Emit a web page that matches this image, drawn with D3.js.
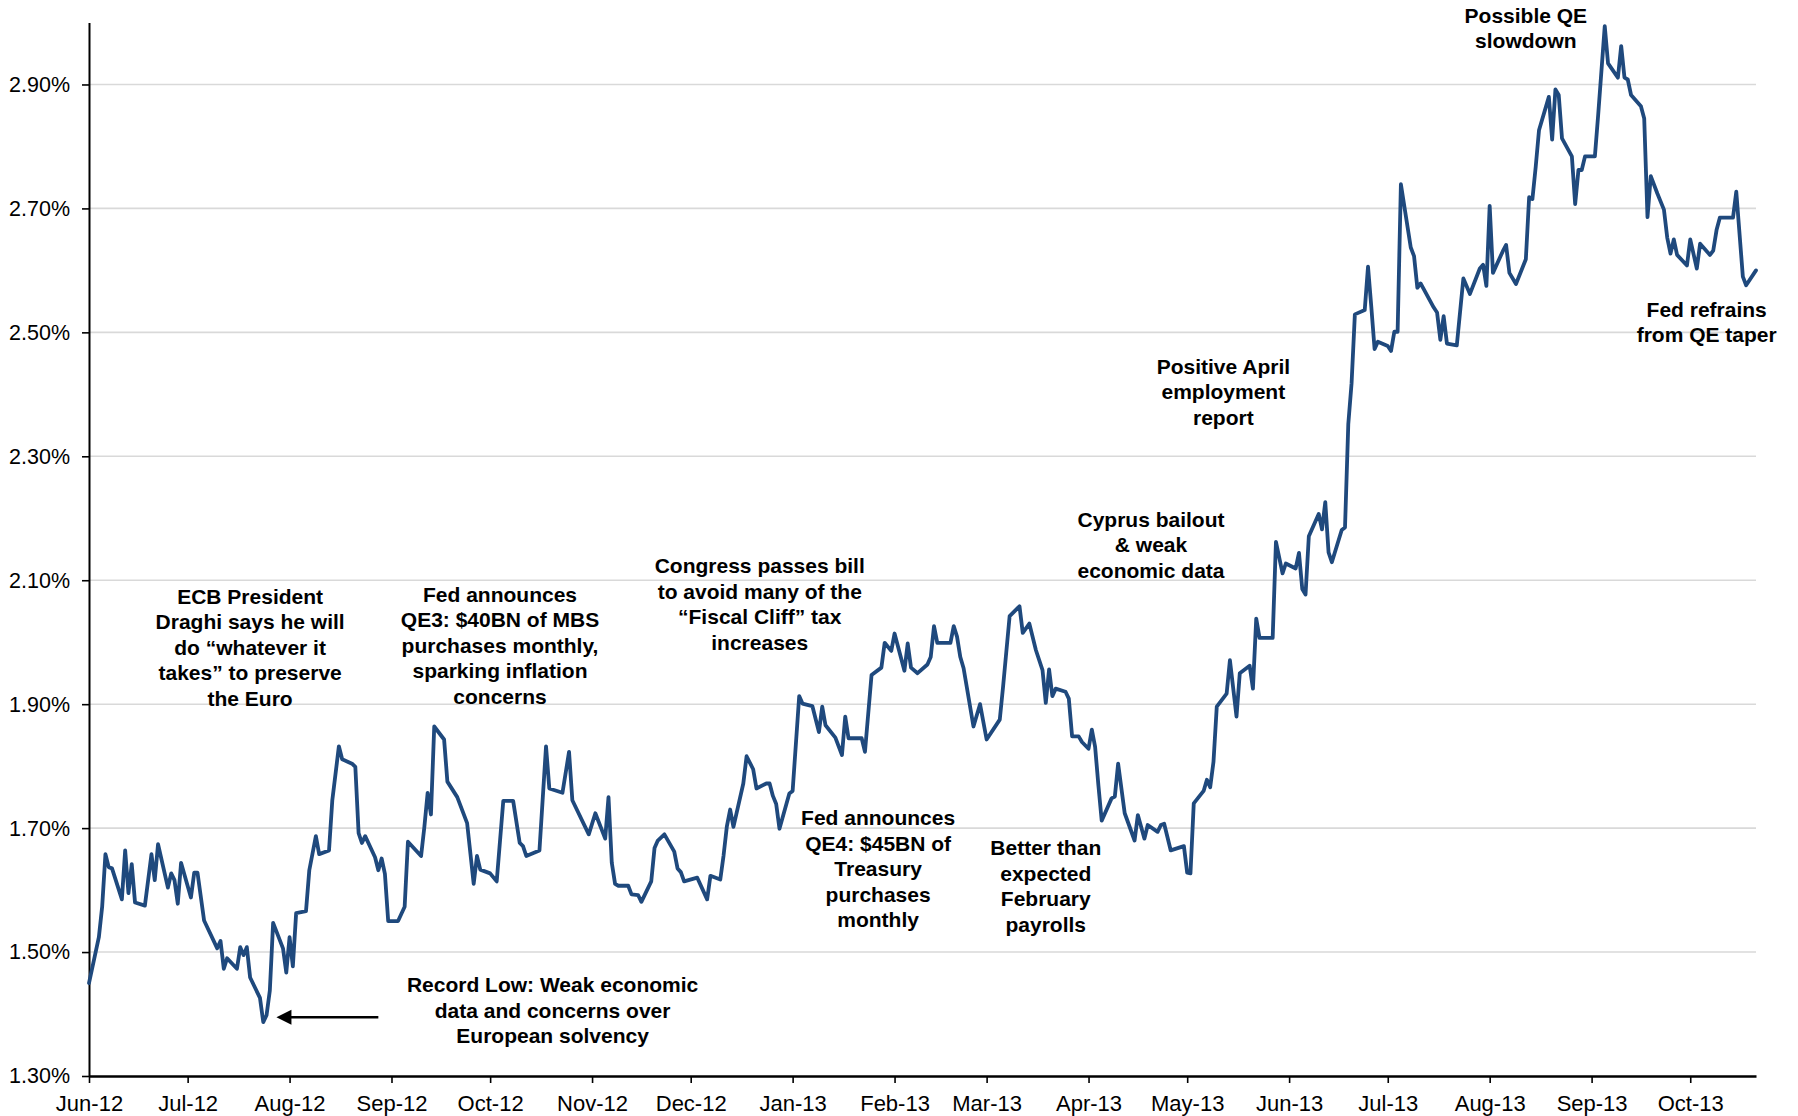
<!DOCTYPE html>
<html>
<head>
<meta charset="utf-8">
<script src="https://cdn.jsdelivr.net/npm/d3@7"></script>
<style>
  html, body { margin: 0; padding: 0; background: #fff; }
  svg { display: block; background: #fff; }
  text { font-family: "Liberation Sans", Arial, Helvetica, sans-serif; fill: #000; }
</style>
</head>
<body>
<svg id="chart" width="1798" height="1116"></svg>
<script>
// 10-year US Treasury yield (%), daily closes, Jun 2012 - Oct 2013
const yield2012 = [
  ["2012-06-01",1.45],["2012-06-04",1.524],["2012-06-05",1.573],["2012-06-06",1.658],["2012-06-07",1.637],
  ["2012-06-08",1.635],["2012-06-11",1.585],["2012-06-12",1.664],["2012-06-13",1.595],["2012-06-14",1.642],
  ["2012-06-15",1.58],["2012-06-18",1.575],["2012-06-20",1.658],["2012-06-21",1.616],["2012-06-22",1.674],
  ["2012-06-25",1.604],["2012-06-26",1.627],["2012-06-27",1.616],["2012-06-28",1.578],["2012-06-29",1.644],
  ["2012-07-02",1.588],["2012-07-03",1.628],["2012-07-04",1.628],["2012-07-06",1.551],["2012-07-10",1.506],
  ["2012-07-11",1.518],["2012-07-12",1.473],["2012-07-13",1.49],["2012-07-16",1.473],["2012-07-17",1.508],
  ["2012-07-18",1.495],["2012-07-19",1.508],["2012-07-20",1.459],["2012-07-23",1.426],["2012-07-24",1.387],
  ["2012-07-25",1.398],["2012-07-26",1.438],["2012-07-27",1.547],["2012-07-30",1.506],["2012-07-31",1.467],
  ["2012-08-01",1.524],["2012-08-02",1.477],["2012-08-03",1.563],["2012-08-06",1.566],["2012-08-07",1.632],
  ["2012-08-09",1.687],["2012-08-10",1.658],["2012-08-13",1.664],["2012-08-14",1.745],["2012-08-16",1.832],
  ["2012-08-17",1.811],["2012-08-20",1.804],["2012-08-21",1.799],["2012-08-22",1.692],["2012-08-23",1.676],
  ["2012-08-24",1.687],["2012-08-27",1.653],["2012-08-28",1.632],["2012-08-29",1.651],["2012-08-30",1.626],
  ["2012-08-31",1.55],["2012-09-03",1.55],["2012-09-05",1.573],["2012-09-06",1.678],["2012-09-10",1.655],
  ["2012-09-11",1.702],["2012-09-12",1.757],["2012-09-13",1.722],["2012-09-14",1.864],["2012-09-17",1.843],
  ["2012-09-18",1.775],["2012-09-21",1.75],["2012-09-24",1.708],["2012-09-26",1.61],["2012-09-27",1.655],
  ["2012-09-28",1.633],["2012-10-01",1.627],["2012-10-03",1.614],["2012-10-05",1.744],["2012-10-08",1.744],
  ["2012-10-10",1.676],["2012-10-11",1.671],["2012-10-12",1.655],["2012-10-16",1.664],["2012-10-18",1.832],
  ["2012-10-19",1.764],["2012-10-23",1.757],["2012-10-25",1.823],["2012-10-26",1.745],["2012-10-31",1.69],
  ["2012-11-02",1.724],["2012-11-05",1.683],["2012-11-06",1.75],["2012-11-07",1.644],["2012-11-08",1.61],
  ["2012-11-09",1.607],["2012-11-12",1.607],["2012-11-13",1.593],["2012-11-15",1.592],["2012-11-16",1.581],
  ["2012-11-19",1.614],["2012-11-20",1.668],["2012-11-21",1.68],["2012-11-23",1.69],["2012-11-26",1.662],
  ["2012-11-27",1.635],["2012-11-28",1.629],["2012-11-29",1.614],["2012-12-03",1.62],["2012-12-06",1.585],
  ["2012-12-07",1.623],["2012-12-10",1.617],["2012-12-11",1.656],["2012-12-12",1.703],["2012-12-13",1.73],
  ["2012-12-14",1.702],["2012-12-17",1.772],["2012-12-18",1.816],["2012-12-20",1.795],["2012-12-21",1.764],
  ["2012-12-24",1.772],["2012-12-25",1.772],["2012-12-26",1.752],["2012-12-27",1.739],["2012-12-28",1.699],
  ["2012-12-31",1.756]
];

const yield2013 = [
  ["2013-01-01",1.76],["2013-01-03",1.913],["2013-01-04",1.901],["2013-01-07",1.897],["2013-01-09",1.855],
  ["2013-01-10",1.896],["2013-01-11",1.866],["2013-01-14",1.846],["2013-01-16",1.818],["2013-01-17",1.88],
  ["2013-01-18",1.845],["2013-01-22",1.845],["2013-01-23",1.823],["2013-01-25",1.947],["2013-01-28",1.959],
  ["2013-01-29",1.999],["2013-01-31",1.986],["2013-02-01",2.014],["2013-02-04",1.954],["2013-02-05",1.998],
  ["2013-02-06",1.959],["2013-02-08",1.95],["2013-02-11",1.964],["2013-02-12",1.976],["2013-02-13",2.026],
  ["2013-02-14",1.999],["2013-02-18",1.999],["2013-02-19",2.026],["2013-02-20",2.009],["2013-02-21",1.976],
  ["2013-02-22",1.958],["2013-02-25",1.864],["2013-02-27",1.9],["2013-03-01",1.843],["2013-03-05",1.875],
  ["2013-03-06",1.928],["2013-03-08",2.042],["2013-03-11",2.058],["2013-03-12",2.015],["2013-03-14",2.03],
  ["2013-03-16",1.987],["2013-03-18",1.955],["2013-03-19",1.902],["2013-03-20",1.956],["2013-03-21",1.913],
  ["2013-03-22",1.925],["2013-03-25",1.92],["2013-03-26",1.909],["2013-03-27",1.848],["2013-03-29",1.848],
  ["2013-03-30",1.839],["2013-04-01",1.828],["2013-04-02",1.859],["2013-04-03",1.831],["2013-04-04",1.769],
  ["2013-04-05",1.712],["2013-04-08",1.748],["2013-04-09",1.751],["2013-04-10",1.804],["2013-04-12",1.724],
  ["2013-04-15",1.68],["2013-04-16",1.721],["2013-04-18",1.683],["2013-04-19",1.705],["2013-04-22",1.694],
  ["2013-04-23",1.705],["2013-04-24",1.707],["2013-04-26",1.664],["2013-04-30",1.671],["2013-05-01",1.628],
  ["2013-05-02",1.627],["2013-05-03",1.74],["2013-05-06",1.76],["2013-05-07",1.778],["2013-05-08",1.766],
  ["2013-05-09",1.807],["2013-05-10",1.896],["2013-05-13",1.917],["2013-05-14",1.971],["2013-05-16",1.88],
  ["2013-05-17",1.95],["2013-05-20",1.962],["2013-05-21",1.925],["2013-05-22",2.038],["2013-05-23",2.007],
  ["2013-05-27",2.007],["2013-05-28",2.162],["2013-05-30",2.111],["2013-05-31",2.127],["2013-06-03",2.119],
  ["2013-06-04",2.144],["2013-06-05",2.086],["2013-06-06",2.077],["2013-06-07",2.171],["2013-06-10",2.207],
  ["2013-06-11",2.182],["2013-06-12",2.226],["2013-06-13",2.145],["2013-06-14",2.129],["2013-06-17",2.181],
  ["2013-06-18",2.185],["2013-06-19",2.352],["2013-06-20",2.418],["2013-06-21",2.529],["2013-06-24",2.536],
  ["2013-06-25",2.606],["2013-06-26",2.541],["2013-06-27",2.473],["2013-06-28",2.485],["2013-07-01",2.478],
  ["2013-07-02",2.47],["2013-07-03",2.501],["2013-07-04",2.501],["2013-07-05",2.739],["2013-07-08",2.637],
  ["2013-07-09",2.623],["2013-07-10",2.572],["2013-07-11",2.579],["2013-07-15",2.54],["2013-07-16",2.532],
  ["2013-07-17",2.488],["2013-07-18",2.526],["2013-07-19",2.482],["2013-07-22",2.479],["2013-07-24",2.587],
  ["2013-07-26",2.562],["2013-07-29",2.603],["2013-07-30",2.609],["2013-07-31",2.575],["2013-08-01",2.704],
  ["2013-08-02",2.596],["2013-08-05",2.631],["2013-08-06",2.641],["2013-08-07",2.596],["2013-08-09",2.578],
  ["2013-08-12",2.618],["2013-08-13",2.718],["2013-08-14",2.715],["2013-08-15",2.767],["2013-08-16",2.826],
  ["2013-08-19",2.88],["2013-08-20",2.811],["2013-08-21",2.892],["2013-08-22",2.883],["2013-08-23",2.813],
  ["2013-08-26",2.784],["2013-08-27",2.707],["2013-08-28",2.762],["2013-08-29",2.762],["2013-08-30",2.784],
  ["2013-09-02",2.784],["2013-09-03",2.851],["2013-09-05",2.994],["2013-09-06",2.934],["2013-09-09",2.911],
  ["2013-09-10",2.962],["2013-09-11",2.911],["2013-09-12",2.908],["2013-09-13",2.883],["2013-09-16",2.865],
  ["2013-09-17",2.845],["2013-09-18",2.686],["2013-09-19",2.752],["2013-09-21",2.724],["2013-09-23",2.698],
  ["2013-09-24",2.653],["2013-09-25",2.627],["2013-09-26",2.65],["2013-09-27",2.625],["2013-09-30",2.608],
  ["2013-10-01",2.65],["2013-10-03",2.603],["2013-10-04",2.643],["2013-10-07",2.625],["2013-10-08",2.632],
  ["2013-10-09",2.665],["2013-10-10",2.685],["2013-10-14",2.685],["2013-10-15",2.727],["2013-10-17",2.59],
  ["2013-10-18",2.576],["2013-10-21",2.60]
];

const xTickLabels = ["Jun-12","Jul-12","Aug-12","Sep-12","Oct-12","Nov-12","Dec-12","Jan-13","Feb-13",
                     "Mar-13","Apr-13","May-13","Jun-13","Jul-13","Aug-13","Sep-13","Oct-13"];
const yTickValues = [1.3, 1.5, 1.7, 1.9, 2.1, 2.3, 2.5, 2.7, 2.9];
const yDomain = [1.3, 3.0];

// Event notes, anchored at (date, yield) of the first text baseline
const events = [
  { lines: ["ECB President", "Draghi says he will", "do \u201cwhatever it", "takes\u201d to preserve", "the Euro"], date: "2012-07-20", value: 2.062 },
  { lines: ["Fed announces", "QE3: $40BN of MBS", "purchases monthly,", "sparking inflation", "concerns"], date: "2012-10-04", value: 2.065 },
  { lines: ["Congress passes bill", "to avoid many of the", "\u201cFiscal Cliff\u201d tax", "increases"], date: "2012-12-22", value: 2.111 },
  { lines: ["Fed announces", "QE4: $45BN of", "Treasury", "purchases", "monthly"], date: "2013-01-27", value: 1.705 },
  { lines: ["Better than", "expected", "February", "payrolls"], date: "2013-03-19", value: 1.656 },
  { lines: ["Cyprus bailout", "& weak", "economic data"], date: "2013-04-20", value: 2.186 },
  { lines: ["Positive April", "employment", "report"], date: "2013-05-12", value: 2.433 },
  { lines: ["Possible QE", "slowdown"], date: "2013-08-12", value: 3.0 },
  { lines: ["Fed refrains", "from QE taper"], date: "2013-10-06", value: 2.525 },
  { lines: ["Record Low: Weak economic", "data and concerns over", "European solvency"], date: "2012-10-20", value: 1.435 }
];
const recordLowArrow = { from: ["2012-08-28", 1.395], to: ["2012-07-28", 1.395] };

// ---- drawing ----
(function () {
  const parseDay = d3.utcParse("%Y-%m-%d");
  const parseMonth = d3.utcParse("%b-%y");
  const series = yield2012.concat(yield2013).map(([d, v]) => ({ date: parseDay(d), value: v }));

  const svg = d3.select("#chart");
  const plotLeft = 89, plotRight = 1756, plotTop = 22.5, plotBottom = 1076;

  const x = d3.scaleUtc().domain(d3.extent(series, d => d.date)).range([plotLeft, plotRight]);
  const y = d3.scaleLinear().domain(yDomain).range([plotBottom, plotTop]);

  // horizontal gridlines
  svg.append("g")
    .selectAll("line")
    .data(yTickValues.filter(v => v > yDomain[0]))
    .join("line")
    .attr("x1", plotLeft).attr("x2", plotRight)
    .attr("y1", d => y(d)).attr("y2", d => y(d))
    .attr("stroke", "#d9d9d9")
    .attr("stroke-width", 1.6);

  // y axis
  const yAxis = svg.append("g")
    .attr("transform", `translate(${plotLeft},0)`)
    .call(d3.axisLeft(y)
      .tickValues(yTickValues)
      .tickFormat(d => d.toFixed(2) + "%")
      .tickSize(7)
      .tickSizeOuter(0)
      .tickPadding(12));
  yAxis.select(".domain").attr("stroke", "#000").attr("stroke-width", 2);
  yAxis.selectAll(".tick line").attr("stroke", "#000").attr("stroke-width", 1.6);
  yAxis.selectAll(".tick text").attr("font-size", "21.5px").attr("fill", "#000");

  // x axis
  const xAxis = svg.append("g")
    .attr("transform", `translate(0,${plotBottom})`)
    .call(d3.axisBottom(x)
      .tickValues(xTickLabels.map(parseMonth))
      .tickFormat(d3.utcFormat("%b-%y"))
      .tickSize(7)
      .tickSizeOuter(0)
      .tickPadding(12));
  xAxis.select(".domain").attr("stroke", "#000").attr("stroke-width", 2.6);
  xAxis.selectAll(".tick line").attr("stroke", "#000").attr("stroke-width", 1.6);
  xAxis.selectAll(".tick text").attr("font-size", "22px").attr("fill", "#000");

  // yield line
  svg.append("path")
    .datum(series)
    .attr("fill", "none")
    .attr("stroke", "#1F497D")
    .attr("stroke-width", 3.8)
    .attr("stroke-linejoin", "round")
    .attr("stroke-linecap", "round")
    .attr("d", d3.line().x(d => x(d.date)).y(d => y(d.value)));

  // event notes
  const lineGap = 25.5;
  const notes = svg.append("g").attr("font-size", "21px").attr("font-weight", "bold").attr("text-anchor", "middle");
  events.forEach(ev => {
    const cx = x(parseDay(ev.date)), by = y(ev.value);
    const t = notes.append("text").attr("x", cx).attr("y", by);
    ev.lines.forEach((ln, i) => {
      t.append("tspan").attr("x", cx).attr("y", by + i * lineGap).text(ln);
    });
  });

  // arrow pointing at the record low
  const ax0 = x(parseDay(recordLowArrow.from[0])), ay = y(recordLowArrow.from[1]);
  const ax1 = x(parseDay(recordLowArrow.to[0]));
  const headLen = 15, headHalf = 7.5;
  svg.append("line")
    .attr("x1", ax0).attr("x2", ax1 + headLen - 1)
    .attr("y1", ay).attr("y2", ay)
    .attr("stroke", "#000").attr("stroke-width", 2.5);
  svg.append("path")
    .attr("d", `M${ax1},${ay} L${ax1 + headLen},${ay - headHalf} L${ax1 + headLen},${ay + headHalf} Z`)
    .attr("fill", "#000");
})();
</script>
</body>
</html>
